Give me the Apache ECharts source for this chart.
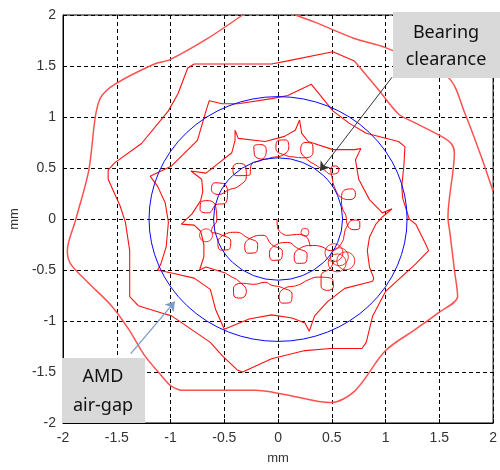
<!DOCTYPE html>
<html>
<head>
<meta charset="utf-8">
<script src="https://cdn.jsdelivr.net/npm/echarts@6/dist/echarts.min.js"></script>
<style>
html,body{margin:0;padding:0;background:#fff;}
#chart{width:500px;height:470px;}
</style>
</head>
<body>
<div id="chart"></div>
<script>
// ---- data (mm) ----
const entryPath = [[0.16,2.0],[0.34,1.93],[0.71,1.77],[1.0,1.68],[1.58,1.39],[1.74,1.03],[1.89,0.61],[2.0,0.27]];

const outerLap = [[-0.33,2.0],[-0.67,1.76],[-1.01,1.56],[-1.15,1.52],[-1.52,1.32],[-1.65,1.19],[-1.70,1.0],[-1.76,0.48],
  [-1.88,0.0],[-1.96,-0.31],[-1.93,-0.44],[-1.76,-0.63],[-1.55,-0.85],[-1.39,-1.08],[-1.24,-1.34],[-1.09,-1.53],
  [-0.99,-1.64],[-0.87,-1.68],[-0.63,-1.68],[-0.21,-1.68],[0.06,-1.72],[0.49,-1.80],[0.71,-1.69],[1.0,-1.29],
  [1.28,-1.08],[1.49,-0.92],[1.67,-0.76],[1.64,-0.50],[1.60,-0.15],[1.58,0.02],[1.64,0.65],[1.61,0.74],[1.52,0.81],
  [1.28,0.94],[1.12,1.03],[0.94,1.26],[0.71,1.55]];

const innerSpiral = [[0.71,1.55],[0.51,1.64],[0.09,1.55],[-0.06,1.52],[-0.67,1.52],[-0.78,1.52],[-0.84,1.48],[-0.93,1.23],
  [-1.02,1.06],[-1.27,0.74],[-1.52,0.55],[-1.58,0.48],[-1.58,0.39],[-1.47,0.13],[-1.42,-0.03],[-1.38,-0.31],[-1.38,-0.76],
  [-1.30,-0.85],[-1.09,-0.92],[-0.99,-0.95],[-0.63,-1.21],[-0.52,-1.34],[-0.38,-1.48],[-0.33,-1.50],[-0.06,-1.37],
  [0.25,-1.29],[0.49,-1.27],[0.78,-1.27],[0.82,-1.21],[0.88,-0.95],[1.0,-0.71],[1.28,-0.44],[1.40,-0.31],[1.37,-0.24],
  [1.28,-0.05],[1.22,0.0],[1.16,0.20],[1.15,0.32],[1.17,0.52],[1.18,0.71],[1.12,0.76],[0.82,0.84],[0.66,0.94],[0.51,1.06],
  [0.31,1.32],[0.09,1.21],[-0.06,1.18],[-0.37,1.13],[-0.52,1.13],[-0.64,1.16],[-0.67,1.06],[-0.75,0.77],[-0.99,0.52],
  [-1.19,0.42],[-1.12,0.32],[-1.05,0.16],[-1.02,-0.03],[-1.04,-0.27],[-1.09,-0.44],[-1.12,-0.50],[-0.99,-0.53],
  [-0.78,-0.58],[-0.63,-0.69],[-0.58,-0.89],[-0.50,-1.08],[-0.27,-0.98],[-0.06,-0.94],[0.13,-0.97],[0.25,-1.02],
  [0.29,-1.10],[0.34,-0.95],[0.46,-0.81],[0.62,-0.68],[0.88,-0.61],[0.89,-0.58],[0.85,-0.47],[0.83,-0.31],[0.85,-0.18],
  [0.91,-0.05],[0.97,0.02],[1.06,0.10],[0.97,0.06],[0.85,0.19],[0.75,0.39],[0.72,0.58],[0.77,0.69],[0.71,0.68],
  [0.51,0.68],[0.28,0.76],[0.22,0.84],[0.20,0.97],[0.16,0.87],[0.06,0.81],[-0.12,0.76],[-0.37,0.79],[-0.40,0.87],
  [-0.40,0.77],[-0.43,0.65],[-0.55,0.55],[-0.67,0.45],[-0.81,0.47],[-0.71,0.39],[-0.70,0.27],[-0.72,0.18],[-0.80,0.05],
  [-0.90,-0.05],[-0.78,-0.06],[-0.72,-0.12],[-0.69,-0.25],[-0.69,-0.37],[-0.73,-0.50],[-0.67,-0.47],[-0.49,-0.53]];

const bottomWhirl = [[-0.49,-0.53],[-0.445,-0.56],[-0.365,-0.61],[-0.295,-0.71],[-0.345,-0.775],[-0.41,-0.755],
  [-0.415,-0.685],[-0.34,-0.63],[-0.22,-0.64],[-0.12,-0.62],[-0.06,-0.65],[0.03,-0.67],[0.13,-0.74],[0.11,-0.82],
  [0.04,-0.825],[0.01,-0.76],[0.06,-0.68],[0.18,-0.65],[0.285,-0.595],[0.37,-0.57],[0.49,-0.58],[0.515,-0.66],
  [0.46,-0.70],[0.40,-0.655],[0.40,-0.56],[0.49,-0.475],[0.52,-0.40]];

const whirlPath = [
  [0.54,-0.30],[0.60,-0.22],[0.615,-0.155],[0.635,-0.085],[0.70,-0.01],[0.76,-0.03],[0.76,-0.085],[0.705,-0.105],[0.645,-0.06],[0.63,0.035],
  [0.60,0.10],[0.59,0.18],[0.62,0.285],[0.69,0.295],[0.72,0.24],[0.67,0.19],[0.59,0.21],[0.53,0.30],
  [0.50,0.42],[0.49,0.495],[0.535,0.52],[0.565,0.49],[0.55,0.45],[0.49,0.44],[0.43,0.48],
  [0.39,0.50],[0.35,0.53],[0.275,0.58],[0.21,0.68],[0.25,0.75],[0.32,0.73],[0.325,0.655],[0.25,0.60],[0.13,0.61],
  [0.08,0.62],[-0.02,0.69],[0.0,0.77],[0.07,0.775],[0.10,0.71],[0.05,0.63],[-0.07,0.60],
  [-0.11,0.585],[-0.22,0.63],[-0.225,0.71],[-0.16,0.73],[-0.11,0.68],[-0.14,0.59],[-0.25,0.53],
  [-0.265,0.43],[-0.39,0.425],[-0.42,0.50],[-0.37,0.545],[-0.30,0.51],[-0.295,0.42],[-0.37,0.32],
  [-0.45,0.29],[-0.555,0.24],[-0.62,0.29],[-0.59,0.355],[-0.52,0.35],[-0.47,0.27],[-0.50,0.15],
  [-0.565,0.145],[-0.65,0.06],[-0.725,0.09],[-0.72,0.16],[-0.65,0.18],[-0.58,0.12],[-0.57,-0.01],
  [-0.61,-0.08],[-0.62,-0.12],
  [-0.54,-0.15],[-0.44,-0.22],[-0.46,-0.30],[-0.53,-0.305],[-0.56,-0.24],[-0.51,-0.16],[-0.39,-0.13],
  [-0.29,-0.18],[-0.19,-0.25],[-0.21,-0.33],[-0.28,-0.335],[-0.31,-0.27],[-0.26,-0.19],[-0.14,-0.16],
  [-0.06,-0.25],[0.04,-0.32],[0.02,-0.40],[-0.05,-0.405],[-0.08,-0.34],[-0.03,-0.26],[0.09,-0.23],
  [0.17,-0.28],[0.27,-0.35],[0.25,-0.43],[0.18,-0.435],[0.15,-0.37],[0.20,-0.29],[0.32,-0.26],
  [0.40,-0.27],[0.49,-0.31],[0.54,-0.30]];

const centerStart = [[-0.01,0.0],[0.0,-0.10],[0.08,-0.16],[0.20,-0.15],[0.27,-0.18],[0.30,-0.27]];

const clusterLoopCentres = [[0.57,-0.37],[0.63,-0.41],[0.55,-0.43],[0.52,-0.33]];
const leftLoopCentres = [[-0.67,-0.16]];
const smallLoopCentres = [[0.25,-0.13]];

// limit circles: [cx, cy, radius] (AMD air-gap 1.2 mm, bearing clearance 0.6 mm)
const limitCircles = [[0,0,1.2],[0,0,0.6]];

// annotation arrows: [from, to]
const bearingArrow = [[1.06,1.39],[0.39,0.47]];
const airgapArrow = [[-1.37,-1.32],[-0.96,-0.81]];

const axisMin = -2, axisMax = 2, axisStep = 0.5;

// ---- chart ----
const chart = echarts.init(document.getElementById('chart'), null, {renderer:'canvas'});

function lineSeries(data, color, width, smooth){
  return {type:'line', data:data, showSymbol:false, symbol:'none', smooth:smooth||0, clip:true, silent:true,
    lineStyle:{color:color, width:width}, z:2};
}
function loopSeries(data, size){
  return {type:'scatter', data:data, symbol:'circle', symbolSize:size, silent:true, clip:true,
    itemStyle:{color:'rgba(0,0,0,0)', borderColor:'#ff0000', borderWidth:1}, z:3};
}

const fontAx = '"Liberation Sans", Arial, sans-serif';
const axisCommon = {
  type:'value', min:axisMin, max:axisMax, interval:axisStep,
  axisLine:{show:true, onZero:false, lineStyle:{color:'#000', width:1}},
  axisTick:{show:true, inside:true, length:4, lineStyle:{color:'#000'}},
  splitLine:{show:true, lineStyle:{color:'#000', width:1, type:[4,3]}},
  axisLabel:{color:'#333', fontSize:14, fontFamily:fontAx, showMinLabel:true, showMaxLabel:true},
  nameLocation:'middle',
  nameTextStyle:{color:'#333', fontSize:13, fontFamily:fontAx}
};

const boxFont = '18px "Noto Sans", sans-serif';
const option = {
  animation:false,
  backgroundColor:'#fff',
  grid:{left:61, right:5, top:15, bottom:41, show:true, borderColor:'#000', borderWidth:1, containLabel:false},
  xAxis:Object.assign({}, axisCommon, {name:'mm', nameGap:29, axisLabel:Object.assign({}, axisCommon.axisLabel, {margin:8})}),
  yAxis:Object.assign({}, axisCommon, {name:'mm', nameGap:33, nameRotate:90, axisLabel:Object.assign({}, axisCommon.axisLabel, {margin:7})}),
  series:[
    lineSeries(entryPath, '#ff5050', 1.5, 0.3),
    lineSeries(outerLap, '#ff5050', 1.5, 0.3),
    lineSeries(innerSpiral, '#ff1010', 1.1),
    lineSeries(bottomWhirl, '#ff0000', 1, 0.5),
    lineSeries(whirlPath, '#ff0000', 1, 0.5),
    lineSeries(centerStart, '#ff0000', 1, 0.3),
    loopSeries(clusterLoopCentres, 18),
    loopSeries(leftLoopCentres, 13),
    loopSeries(smallLoopCentres, 8),
    {
      type:'custom', data:limitCircles, silent:true, z:4,
      renderItem:function(params, api){
        const c = api.coord([api.value(0), api.value(1)]);
        const s = api.size([api.value(2), api.value(2)]);
        return {type:'circle', x:c[0], y:c[1], scaleY:s[1]/s[0],
          shape:{cx:0, cy:0, r:s[0]},
          style:{fill:'none', stroke:'#0000ff', lineWidth:1, strokeNoScale:true}};
      }
    },
    {
      type:'lines', coordinateSystem:'cartesian2d', silent:true, z:20,
      symbol:['none','arrow'], symbolSize:[7,9],
      lineStyle:{opacity:1},
      data:[
        {coords:bearingArrow, lineStyle:{color:'#333', width:1, opacity:1}},
        {coords:airgapArrow, lineStyle:{color:'#7b9cc8', width:1.3, opacity:1}}
      ]
    }
  ],
  graphic:[
    {type:'rect', left:393, top:12, z:100, shape:{width:107, height:66}, style:{fill:'#d9d9d9'}},
    {type:'text', x:446, y:33, z:101, style:{text:'Bearing', fill:'#111', font:boxFont, align:'center', verticalAlign:'middle'}},
    {type:'text', x:446, y:60, z:101, style:{text:'clearance', fill:'#111', font:boxFont, align:'center', verticalAlign:'middle'}},
    {type:'rect', left:62, top:358, z:100, shape:{width:83, height:65}, style:{fill:'#d9d9d9'}},
    {type:'text', x:103, y:377, z:101, style:{text:'AMD', fill:'#111', font:boxFont, align:'center', verticalAlign:'middle'}},
    {type:'text', x:103, y:406, z:101, style:{text:'air-gap', fill:'#111', font:boxFont, align:'center', verticalAlign:'middle'}}
  ]
};
chart.setOption(option);
</script>
</body>
</html>
